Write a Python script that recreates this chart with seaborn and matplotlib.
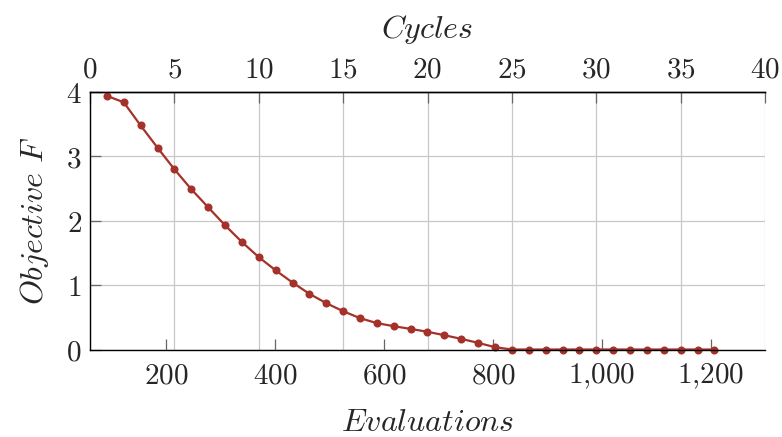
import pandas as pd
import matplotlib
matplotlib.use("Agg")
import matplotlib.pyplot as plt
import seaborn as sns
from matplotlib.ticker import FixedLocator, FuncFormatter

# values
cycles = list(range(1, 38))
evaluations = [91, 122, 153, 184, 215, 246, 277, 308, 339, 370, 401, 432, 463,
               494, 525, 556, 587, 618, 649, 680, 711, 742, 773, 804, 835, 866,
               897, 928, 959, 990, 1021, 1052, 1083, 1114, 1145, 1176, 1207]
objective = [3.94, 3.84, 3.48, 3.135, 2.80, 2.49, 2.21, 1.93, 1.67, 1.435,
             1.23, 1.04, 0.865, 0.72, 0.595, 0.487, 0.41, 0.362, 0.32, 0.275,
             0.222, 0.165, 0.103, 0.036, 0.0, 0.0, 0.0, 0.0, 0.0, 0.0, 0.0,
             0.0, 0.0, 0.0, 0.0, 0.0, 0.0]
eval_ticks = [200, 400, 600, 800, 1000, 1200]
cycle_ticks = [0, 5, 10, 15, 20, 25, 30, 35, 40]
y_ticks = [0, 1, 2, 3, 4]

df = pd.DataFrame({"Cycles": cycles, "Evaluations": evaluations, "Objective": objective})

sns.set_style("white")
plt.rcParams["mathtext.fontset"] = "cm"
plt.rcParams["font.family"] = ["DejaVu Serif"]

fs = 21      # tick labels
lfs = 23     # axis labels
line_color = "#a5322a"
grid_color = "#c8c8c8"
tick_color = "#666666"

fig = plt.figure(figsize=(7.82, 4.37), dpi=100)
ax = fig.add_axes([90 / 782, 1 - 349.5 / 437, 675 / 782, 257.5 / 437])
ax2 = ax.twiny()
ax.set_zorder(ax2.get_zorder() + 1)
ax.patch.set_visible(False)

sns.lineplot(data=df, x="Evaluations", y="Objective", ax=ax, color=line_color,
             marker="o", markersize=5.8, markeredgewidth=0, linewidth=1.6)
ax.lines[-1].set_clip_on(False)

ax.set_xlim(60, 1300)
ax.set_ylim(0, 4)
ax2.set_xlim(0, 40)

ax.xaxis.set_major_locator(FixedLocator(eval_ticks))
ax.xaxis.set_major_formatter(FuncFormatter(lambda v, p: "$" + f"{int(v):,}".replace(",", "{,}") + "$"))
ax.yaxis.set_major_locator(FixedLocator(y_ticks))
ax.yaxis.set_major_formatter(FuncFormatter(lambda v, p: f"${int(v)}$"))
ax2.xaxis.set_major_locator(FixedLocator(cycle_ticks))
ax2.xaxis.set_major_formatter(FuncFormatter(lambda v, p: f"${int(v)}$"))

ax.grid(axis="y", color=grid_color, linewidth=0.9)
ax.grid(axis="x", visible=False)
ax2.grid(axis="x", color=grid_color, linewidth=0.9)
ax2.grid(axis="y", visible=False)

ax.tick_params(axis="x", direction="in", length=8, width=0.9, color=tick_color,
               labelsize=fs, pad=9, bottom=True, top=False)
ax.tick_params(axis="y", direction="in", length=8, width=0.9, color=tick_color,
               labelsize=fs, pad=6, left=True, right=False)
ax2.tick_params(axis="x", direction="in", length=8, width=0.9, color=tick_color,
                labelsize=fs, pad=6, top=True, bottom=False)

# left, bottom and top lines are dark; the right side only shows the grid
for name, sp in ax.spines.items():
    sp.set_visible(name in ("left", "bottom", "top"))
    sp.set_color("black")
    sp.set_linewidth(1.0)
for name, sp in ax2.spines.items():
    sp.set_visible(name == "top")
    sp.set_color("black")
    sp.set_linewidth(1.0)

ax.set_xlabel("$Evaluations$", fontsize=lfs, labelpad=11)
ax.set_ylabel("$Objective\\ F$", fontsize=lfs, labelpad=11)
ax2.set_xlabel("$Cycles$", fontsize=lfs, labelpad=13)

fig.savefig("out.png", dpi=100)
